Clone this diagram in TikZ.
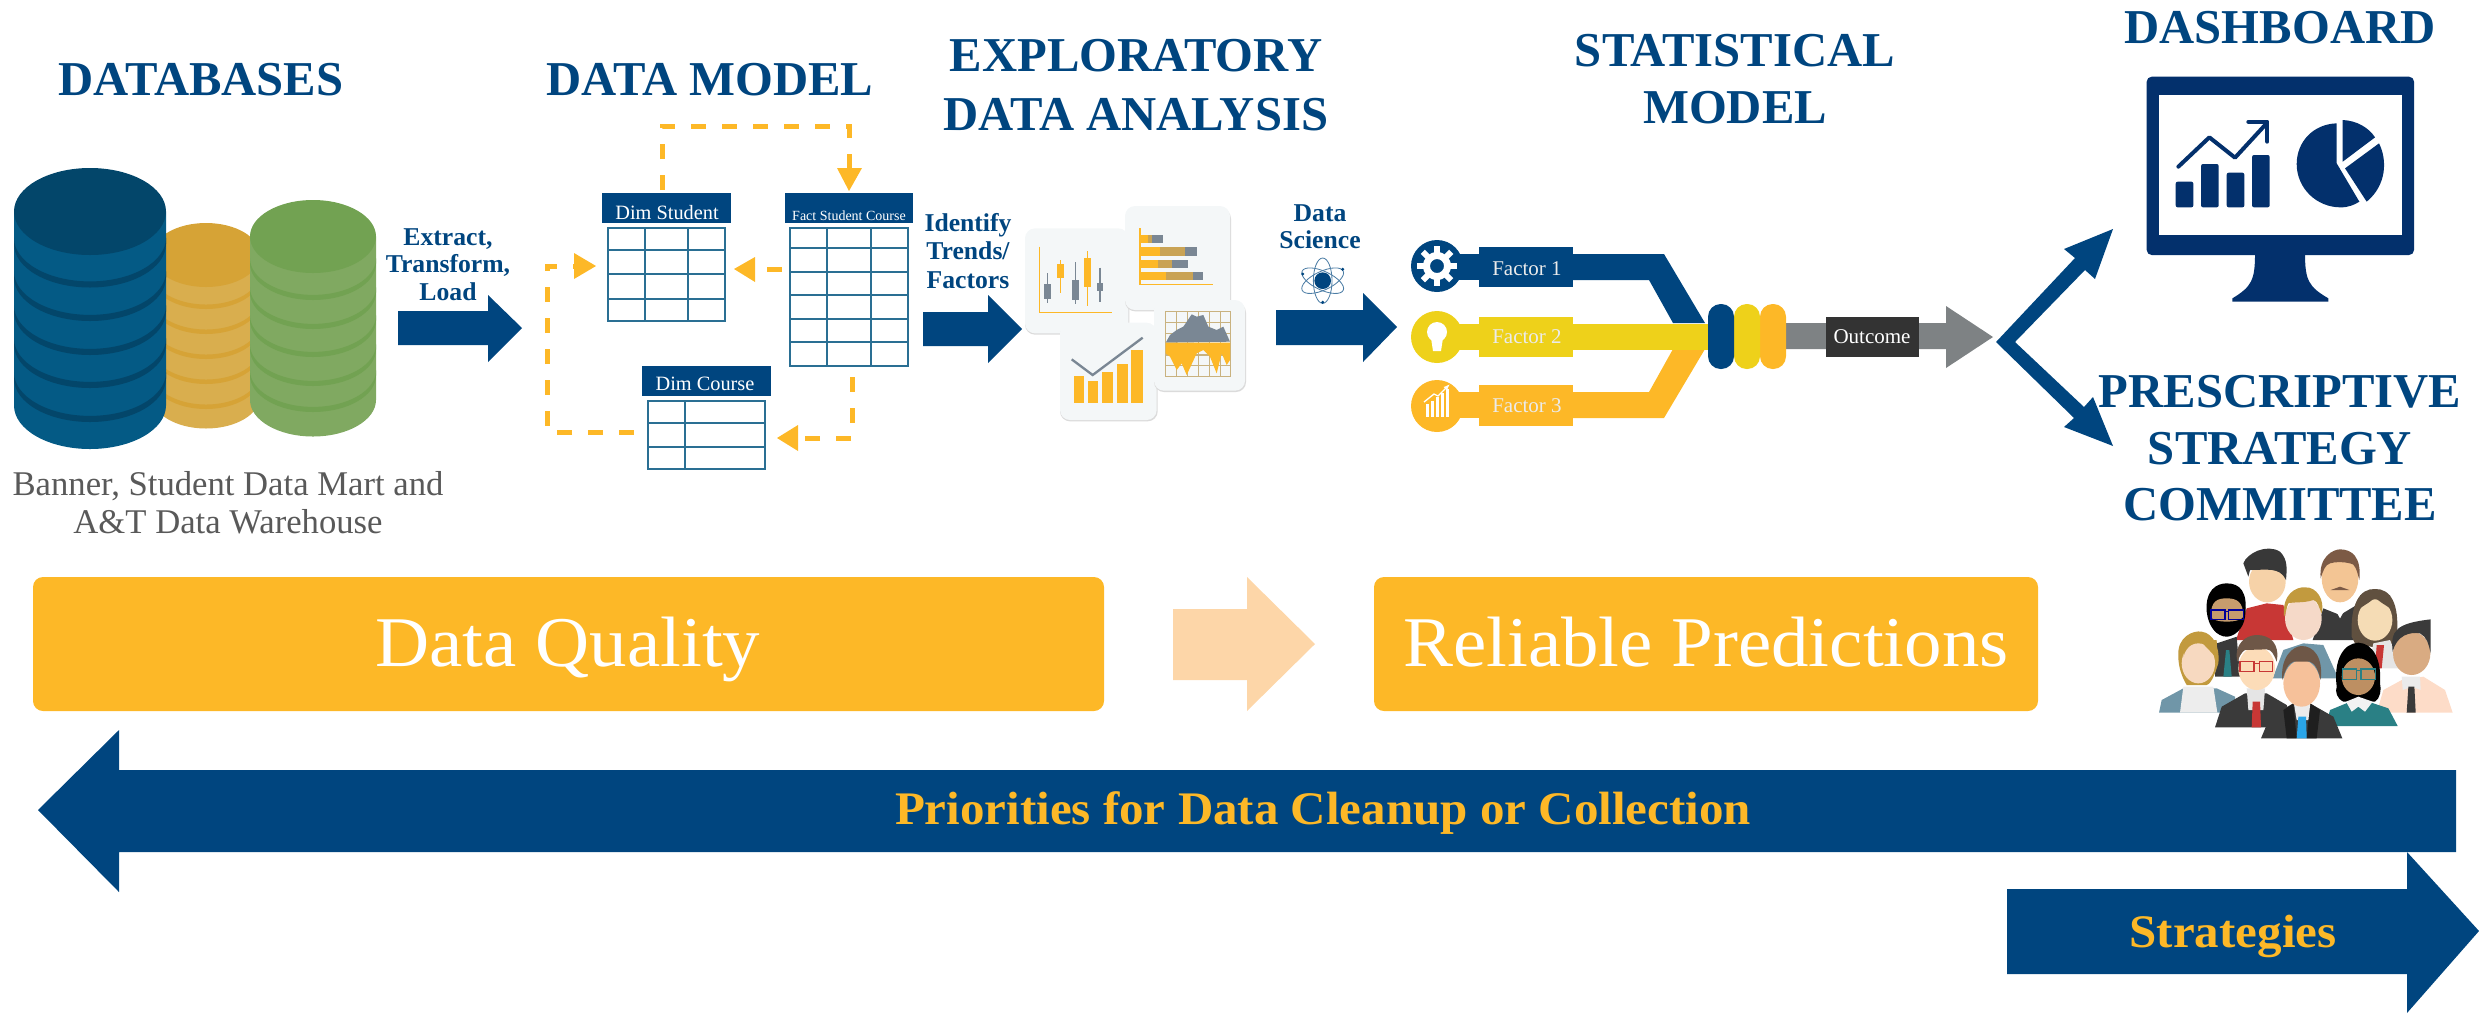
\documentclass[tikz,border=0pt]{standalone}
\usepackage{fontspec}
\setmainfont{Liberation Serif}
\newfontfamily\pal[FakeStretch=1.05]{Liberation Serif}
\usetikzlibrary{arrows.meta,calc}
\definecolor{navy}{HTML}{00457F}
\definecolor{deepnavy}{HTML}{03306C}
\definecolor{amber}{HTML}{FDB827}
\definecolor{lemon}{HTML}{EED11A}
\definecolor{tline}{HTML}{2A6F93}
\definecolor{grayb}{HTML}{7E8284}
\definecolor{cardf}{HTML}{F4F7F8}
\definecolor{chartg}{HTML}{7A8794}
\definecolor{hatchc}{HTML}{C9A355}
\definecolor{gridc}{HTML}{C9B27F}
\definecolor{orgbody}{HTML}{D9AE4E}
\definecolor{orgtop}{HTML}{D6A336}
\definecolor{bluebody}{HTML}{045A85}
\definecolor{bluetop}{HTML}{03466A}
\definecolor{grnbody}{HTML}{80A961}
\definecolor{grntop}{HTML}{72A252}
\definecolor{paleamber}{HTML}{FDD6A8}
\definecolor{shirtred}{HTML}{C83735}
\definecolor{teal}{HTML}{2A8085}
\definecolor{suit}{HTML}{3A3A3A}
\definecolor{steel}{HTML}{7096A8}
\definecolor{blond}{HTML}{C29A3E}
\definecolor{brownh}{HTML}{6E5747}
\definecolor{skinA}{HTML}{F6D2A8}
\definecolor{skinB}{HTML}{F3C594}
\definecolor{skinC}{HTML}{C69C6D}
\definecolor{skinD}{HTML}{F5D9C8}
\definecolor{skinE}{HTML}{F5DCB5}
\definecolor{skinF}{HTML}{D9AB82}
\definecolor{skinG}{HTML}{F7D9C0}
\definecolor{skinH}{HTML}{FCDCB8}
\definecolor{skinI}{HTML}{BD8F62}
\definecolor{skinJ}{HTML}{F6C19A}
\definecolor{peach}{HTML}{FDDCC8}
\definecolor{skyblue}{HTML}{2AA5E8}
\definecolor{hairM}{HTML}{7C5A45}
\definecolor{hairW}{HTML}{60503F}
\tikzset{
 x=0.3pt,y=-0.3pt,
 every node/.style={inner sep=0,outer sep=0},
 title/.style={font=\fontsize{14.6pt}{16pt}\selectfont\bfseries,text=navy,anchor=base},
 lab/.style={font=\fontsize{7.7pt}{9pt}\selectfont\bfseries,text=navy,anchor=base},
 hdr/.style={fill=navy,anchor=north west,text=white},
 fatarrow/.style={fill=navy,draw=none},
 dashline/.style={draw=amber,line width=1.5pt,dash pattern=on 4.5pt off 4.8pt},
 headtri/.style={fill=amber,draw=none},
 tbl/.style={draw=tline,line width=0.6pt,fill=white},
 card/.style={fill=cardf,rounded corners=3pt,draw=none},
 cardshadow/.style={fill=black!14,rounded corners=3pt,draw=none},
 axisl/.style={draw=amber,line width=0.5pt},
 factorlab/.style={font=\fontsize{6.3pt}{7pt}\selectfont,text=white!92!black},
 banner/.style={fill=amber,rounded corners=3pt,draw=none},
 bigw/.style={font=\fontsize{21.4pt}{24pt}\selectfont\pal,text=white,anchor=base},
 arrowlab/.style={font=\fontsize{14pt}{16pt}\selectfont\pal\bfseries,text=amber,anchor=base},
 capt/.style={font=\fontsize{10.4pt}{12pt}\selectfont,text=black!65,anchor=base},
 whitelab/.style={text=white,anchor=base},
 hdrtext/.style={whitelab,font=\fontsize{6.1pt}{7pt}\selectfont},
}
% cylinder: cx rx topcy ry bottomcy body band lows
\newcommand{\dbcyl}[8]{%
 \fill[#6] (#1-#2,#3) -- (#1-#2,#5) arc[start angle=180,end angle=0,x radius=#2,y radius=#4] -- (#1+#2,#3) -- cycle;
 \foreach \low in {#8}{
  \fill[#7] (#1-#2,\low-#4) arc[start angle=180,end angle=0,x radius=#2,y radius=#4]
     -- ++(0,-0.14*#4) arc[start angle=0,end angle=180,x radius=#2,y radius=#4] -- cycle;}
 \fill[#7] (#1,#3) ellipse[x radius=#2,y radius=#4];
}
\newcommand{\gridtable}[6]{% x0 y0 x1 y1 cols rows
 \draw[tbl] (#1,#2) rectangle (#3,#4);
 \foreach \cx in {#5} \draw[tbl] (\cx,#2) -- (\cx,#4);
 \foreach \cy in {#6} \draw[tbl] (#1,\cy) -- (#3,\cy);
}
\begin{document}
\begin{tikzpicture}
\useasboundingbox (0,0) rectangle (2479,1013);
% titles
\node[title] (t1) at (201,95) {DATABASES};
\node[title] (t2) at (710,95) {DATA MODEL};
\node[title] (t3) at (1136,71) {EXPLORATORY};
\node[title] (t3b) at (1136,130) {DATA ANALYSIS};
\node[title] (t4) at (1735,66) {STATISTICAL};
\node[title] (t4b) at (1735,123) {MODEL};
\node[title] (t5) at (2280,43) {DASHBOARD};
\node[title] (t6) at (2280,407) {PRESCRIPTIVE};
\node[title] (t6b) at (2280,464) {STRATEGY};
\node[title] (t6c) at (2280,520) {COMMITTEE};
% cylinders
\dbcyl{206}{54}{255}{32}{396.5}{orgbody}{orgtop}{309,334,359,384,409}
\dbcyl{90}{76}{211.5}{43.5}{405.5}{bluebody}{bluetop}{287.5,321,355,388,422}
\dbcyl{313}{63}{236.5}{36.5}{400}{grnbody}{grntop}{300,329,357,386,412}
\node[capt] (b1) at (228,495) {Banner, Student Data Mart and};
\node[capt] (b2) at (228,533) {A\&T Data Warehouse};
% ETL
\node[lab] (l1) at (448,245) {Extract,};
\node[lab] (l2) at (448,272) {Transform,};
\node[lab] (l3) at (448,300) {Load};
\fill[fatarrow] (398,311) -- (488,311) -- (488,295) -- (522,328) -- (488,362) -- (488,345) -- (398,345) -- cycle;
% tables
\gridtable{608}{228}{725}{321}{645,688}{250,274,299}
\gridtable{790}{228}{908}{366}{827,871}{248,272,295,319,342}
\gridtable{648}{401}{765}{469}{685}{423,447}
\node[hdr,minimum width=38.7pt,minimum height=9pt] (dsh) at (602,193) {};
\node[hdrtext] (dst) at (667,219) {Dim Student};
\node[hdr,minimum width=38.4pt,minimum height=9pt] (fsh) at (785,193) {};
\node[whitelab,font=\fontsize{4.2pt}{5pt}\selectfont] (fst) at (849,220) {Fact Student Course};
\node[hdr,minimum width=38.7pt,minimum height=9pt] (dch) at (642,366) {};
\node[hdrtext] (dct) at (705,390) {Dim Course};
% dashed connectors
\coordinate (d1a) at (662,190); \coordinate (d1b) at (849,168);
\coordinate (d2a) at (782,269); \coordinate (d2b) at (755,269);
\coordinate (d3a) at (852,377); \coordinate (d3b) at (798,438);
\coordinate (d4a) at (634,432); \coordinate (d4b) at (574,266);
\draw[dashline] (d1a) -- (662,126) -- (849,126) -- (d1b);
\fill[headtri] (837,168) -- (862,168) -- (849,191) -- cycle;
\draw[dashline] (d2a) -- (d2b);
\fill[headtri] (755,257) -- (755,282) -- (734,269) -- cycle;
\draw[dashline] (d3a) -- (852,438) -- (d3b);
\fill[headtri] (798,425) -- (798,451) -- (777,438) -- cycle;
\draw[dashline] (d4a) -- (547,432) -- (547,266) -- (d4b);
\fill[headtri] (574,253) -- (574,279) -- (596,266) -- cycle;
% Identify
\node[lab] (i1) at (968,231) {Identify};
\node[lab] (i2) at (968,259) {Trends/};
\node[lab] (i3) at (968,288) {Factors};
\fill[fatarrow] (923,312) -- (988,312) -- (988,295) -- (1022,329) -- (988,363) -- (988,346) -- (923,346) -- cycle;
% chart cards (zoom coordinates)
\begin{scope}[shift={(1000,130)},x=0.1pt,y=-0.1pt]
 % card A
 \fill[cardshadow] (75,303) rectangle (388,614);
 \fill[card] (75,295) rectangle (385,610);
 \draw[axisl] (118,350) -- (118,547) -- (337,547);
 \foreach \xp/\wa/\wb/\ba/\bb/\cc in {142/430/520/462/507/chartg,181/390/490/403/445/amber,226/397/522/450/510/chartg,262/363/527/385/472/amber,300/413/515/460/482/chartg}{
  \draw[\cc,line width=0.35pt] (\xp,\wa) -- (\xp,\wb);
  \fill[\cc] (\xp-10,\ba) rectangle (\xp+10,\bb);}
 % card B
 \fill[cardshadow] (375,236) rectangle (693,544);
 \fill[card] (375,228) rectangle (690,540);
 \draw[axisl] (420,295) -- (420,463) -- (638,463);
 \foreach \ya/\yb/\xa/\xb/\xc in {315/338/445/457/488,352/378/480/555/592,390/414/475/517/563,427/451/497/580/610}{
  \fill[amber] (420,\ya) rectangle (\xa,\yb);
  \fill[hatchc] (\xa,\ya) rectangle (\xb,\yb);
  \fill[chartg] (\xb,\ya) rectangle (\xc,\yb);}
 % card C
 \fill[cardshadow] (180,586) rectangle (473,874);
 \fill[card] (180,578) rectangle (470,870);
 \foreach \xa/\xb/\yt in {222/252/737,263/295/753,305/338/727,350/383/702,393/428/660}
  \fill[amber] (\xa,\yt) rectangle (\xb,820);
 \draw[chartg,line width=0.7pt] (215,688) -- (278,735) -- (428,623);
 % card D
 \fill[cardshadow] (462,518) rectangle (738,786);
 \fill[card] (462,510) rectangle (735,782);
 \draw[gridc,line width=0.4pt] (497,545) rectangle (692,740);
 \foreach \gx in {530,563,596,629,662} \draw[gridc,line width=0.35pt] (\gx,545) -- (\gx,740);
 \foreach \gy in {577,610,642,675,707} \draw[gridc,line width=0.35pt] (497,\gy) -- (692,\gy);
 \fill[chartg] (497,638) -- (510,615) -- (530,600) -- (550,590) -- (575,553) -- (590,560) -- (610,555) -- (625,590) -- (650,600) -- (670,590) -- (690,635) -- cycle;
 \fill[amber] (497,638) -- (690,638) -- (690,690) -- (680,705) -- (665,670) -- (650,730) -- (630,680) -- (610,660) -- (590,670) -- (560,735) -- (545,700) -- (530,720) -- (510,680) -- (497,670) -- cycle;
 % atom
 \begin{scope}[shift={(968,452)}]
  \fill[navy] (0,0) circle[radius=25];
  \foreach \a in {25,90,155} \draw[navy!70,line width=0.25pt,rotate=\a] (0,0) ellipse[x radius=68,y radius=28];
  \fill[navy] (-60,-20) circle[radius=5] (60,-34) circle[radius=5] (0,65) circle[radius=5];
 \end{scope}
\end{scope}
% data science
\node[lab] (s1) at (1320,221) {Data};
\node[lab] (s2) at (1320,248) {Science};
\fill[fatarrow] (1276,310) -- (1363,310) -- (1363,293) -- (1397,327) -- (1363,362) -- (1363,345) -- (1276,345) -- cycle;
% factors
\fill[amber] (1560,392) -- (1649,392) -- (1673,349) -- (1705,349) -- (1664,418) -- (1560,418) -- cycle;
\fill[navy] (1560,254) -- (1664,254) -- (1705,323) -- (1673,323) -- (1649,280) -- (1560,280) -- cycle;
\fill[navy] (1437,266) circle[radius=26];
\fill[navy] (1437,254) rectangle (1500,280);
\fill[navy] (1479,247) rectangle (1573,287);
\fill[lemon] (1437,337) circle[radius=26];
\fill[lemon] (1437,324) rectangle (1710,350);
\fill[lemon] (1479,317) rectangle (1573,357);
\fill[amber] (1437,406) circle[radius=26];
\fill[amber] (1437,392) rectangle (1500,418);
\fill[amber] (1479,385) rectangle (1573,426);
\node[factorlab] (f1) at (1527,269) {Factor 1};
\node[factorlab] (f2) at (1527,337) {Factor 2};
\node[factorlab] (f3) at (1527,406) {Factor 3};
% factor icons
\foreach \a in {0,45,...,315}
 \fill[white,rotate around={\a:(1437,266)}] (1434,246) rectangle (1440,254);
\fill[white,even odd rule] (1437,266) circle[radius=14] (1437,266) circle[radius=7];
\fill[white] (1437,332) circle[radius=10];
\fill[white] (1431,338) -- (1443,338) -- (1441,351) -- (1433,351) -- cycle;
\foreach \xp/\yt in {1426/404,1431/401,1436/397,1441/393,1446/389}
 \fill[white] (\xp,\yt) rectangle (\xp+3,417);
\draw[white,line width=0.4pt,-{Latex[length=2pt]}] (1424,402) -- (1434,394) -- (1438,396) -- (1450,384);
% outcome
\fill[grayb] (1780,323) -- (1946,323) -- (1946,306) -- (1993,337) -- (1946,368) -- (1946,349) -- (1780,349) -- cycle;
\fill[amber,rounded corners=3.8pt] (1760,304) rectangle (1786,369);
\fill[lemon,rounded corners=3.8pt] (1734,304) rectangle (1760,369);
\fill[navy,rounded corners=3.8pt] (1708,304) rectangle (1734,369);
\node[fill=black!80,minimum width=27.9pt,minimum height=12pt,anchor=center,text=white,font=\fontsize{6.3pt}{7pt}\selectfont] (out) at (1872,337) {Outcome};
% split arrows
\fill[navy] (1996,342) -- (2075,258) -- (2064,249) -- (2113,229) -- (2095,279) -- (2085,270) -- (2015,342) -- (2084,407) -- (2093,397) -- (2113,446) -- (2064,427) -- (2074,418) -- cycle;
% monitor
\begin{scope}[shift={(1980,0)},x=0.1pt,y=-0.1pt]
 \fill[deepnavy,rounded corners=1.5pt] (500,230) rectangle (1302,765);
 \fill[white] (538,285) rectangle (1265,705);
 \fill[deepnavy] (825,760) .. controls (825,840) and (815,860) .. (757,895) -- (757,905) -- (1045,905) -- (1045,895) .. controls (985,860) and (975,840) .. (975,760) -- cycle;
 \foreach \xa/\yt in {587/545,663/492,740/518,816/465}
  \fill[deepnavy,rounded corners=0.6pt] (\xa,\yt) rectangle (\xa+53,622);
 \draw[deepnavy,line width=1.2pt,line cap=round,line join=round] (595,500) -- (688,412) -- (765,473) -- (858,372);
 \draw[deepnavy,line width=1.2pt,line cap=round,line join=round] (805,365) -- (862,365) -- (862,425);
 \fill[deepnavy] (1070,370) .. controls (1000,372) and (950,425) .. (950,492) .. controls (950,565) and (1010,622) .. (1082,622) .. controls (1105,622) and (1122,615) .. (1138,605) -- (1070,490) -- cycle;
 \fill[deepnavy] (1088,360) .. controls (1130,362) and (1165,382) .. (1185,412) -- (1088,485) -- cycle;
 \fill[deepnavy] (1197,430) .. controls (1222,480) and (1220,555) .. (1160,605) -- (1095,505) -- cycle;
\end{scope}
% people
\begin{scope}[shift={(2080,520)},x=0.1pt,y=-0.1pt]
 % back row
 \fill[shirtred] (468,360) -- (500,265) -- (560,250) -- (610,255) -- (640,360) -- cycle;
 \fill[skinA] (562,185) ellipse[x radius=55,y radius=62];
 \fill[black!78] (505,170) -- (490,130) .. controls (500,100) and (560,70) .. (600,95) .. controls (625,120) and (620,150) .. (618,180) .. controls (600,140) and (560,150) .. (510,150) -- cycle;
 \fill[suit] (698,360) -- (730,265) -- (780,285) -- (830,255) -- (830,360) -- cycle;
 \fill[white] (755,250) -- (780,295) -- (805,250) -- cycle;
 \fill[skinB] (780,175) ellipse[x radius=55,y radius=72];
 \fill[hairM] (722,175) .. controls (715,110) and (760,88) .. (780,88) .. controls (815,88) and (845,110) .. (838,180) .. controls (830,150) and (825,130) .. (810,130) .. controls (790,125) and (765,125) .. (750,130) .. controls (735,135) and (730,150) .. (722,175) -- cycle;
 \fill[hairM] (752,210) -- (780,200) -- (808,210) -- cycle;
 % dark man with beard
 \fill[suit] (405,470) -- (410,370) -- (470,350) -- (480,470) -- cycle;
 \fill[teal] (430,470) -- (438,390) -- (448,390) -- (455,470) -- cycle;
 \fill[black] (380,275) .. controls (375,210) and (410,190) .. (440,190) .. controls (480,190) and (505,215) .. (495,290) .. controls (490,330) and (460,350) .. (440,350) .. controls (410,350) and (385,320) .. (380,275) -- cycle;
 \fill[skinC] (392,290) .. controls (392,240) and (415,235) .. (440,235) .. controls (470,235) and (490,245) .. (490,290) .. controls (480,310) and (400,310) .. (392,290) -- cycle;
 \draw[blue!60!black,line width=0.4pt] (393,270) rectangle (435,298) (445,270) rectangle (490,298) (435,275) -- (445,275);
 % blonde man centre
 \fill[steel] (578,475) -- (610,390) -- (670,370) -- (730,375) -- (775,475) -- cycle;
 \fill[skinD] (670,295) ellipse[x radius=55,y radius=65];
 \fill[blond] (612,290) .. controls (605,220) and (650,200) .. (675,202) .. controls (710,200) and (735,240) .. (725,280) .. controls (715,260) and (715,245) .. (700,240) .. controls (670,250) and (640,245) .. (625,250) .. controls (620,260) and (618,280) .. (612,290) -- cycle;
 % woman right
 \fill[hairW] (815,350) .. controls (810,250) and (840,205) .. (885,207) .. controls (930,205) and (960,250) .. (950,350) -- (945,395) -- (825,370) -- cycle;
 \fill[white!90!black] (865,445) -- (880,370) -- (930,360) -- (965,445) -- cycle;
 \fill[shirtred] (885,445) -- (890,375) -- (912,375) -- (905,445) -- cycle;
 \fill[skinE] (885,300) ellipse[x radius=52,y radius=62];
 \fill[hairW] (840,265) .. controls (860,250) and (875,245) .. (885,230) .. controls (895,245) and (910,250) .. (930,265) -- (930,225) -- (840,225) -- cycle;
 % man right
 \fill[peach] (890,578) -- (910,510) -- (965,480) -- (1030,470) -- (1095,510) -- (1118,578) -- cycle;
 \fill[white!92!black] (965,470) -- (1020,470) -- (1022,510) -- (995,500) -- (968,510) -- cycle;
 \fill[suit] (985,500) -- (1003,500) -- (1007,578) -- (980,578) -- cycle;
 \fill[skinF] (995,400) ellipse[x radius=56,y radius=65];
 \fill[suit] (938,395) .. controls (930,330) and (950,310) .. (1052,298) -- (1052,400) .. controls (1045,370) and (1040,350) .. (1020,340) .. controls (990,335) and (950,345) .. (938,395) -- cycle;
 % front left woman
 \fill[steel] (237,578) -- (245,540) -- (310,505) -- (410,505) -- (465,530) -- (470,578) -- cycle;
 \fill[white!93!black] (300,578) -- (310,500) -- (400,500) -- (412,578) -- cycle;
 \fill[blond] (295,410) .. controls (290,350) and (340,330) .. (365,335) .. controls (400,340) and (420,380) .. (415,430) .. controls (405,460) and (395,490) .. (380,495) -- (320,495) .. controls (305,470) and (295,440) .. (295,410) -- cycle;
 \fill[skinG] (355,430) ellipse[x radius=50,y radius=60];
 \fill[blond] (310,410) .. controls (320,375) and (345,365) .. (360,360) .. controls (375,380) and (400,400) .. (412,420) -- (410,360) -- (320,360) -- cycle;
 % red glasses man
 \fill[suit] (405,622) -- (425,560) -- (495,520) -- (560,520) -- (620,555) -- (640,622) -- cycle;
 \fill[white!90!black] (500,505) -- (555,505) -- (550,570) -- (505,570) -- cycle;
 \fill[shirtred] (518,545) -- (540,545) -- (543,622) -- (515,622) -- cycle;
 \fill[skinH] (530,445) ellipse[x radius=55,y radius=65];
 \fill[brownh] (472,425) .. controls (460,370) and (500,345) .. (530,345) .. controls (570,345) and (600,370) .. (590,425) .. controls (580,400) and (575,390) .. (560,388) -- (495,390) .. controls (485,395) and (478,410) .. (472,425) -- cycle;
 \draw[shirtred,line width=0.35pt] (480,425) rectangle (522,455) (538,425) rectangle (578,455) (522,430) -- (538,430);
 % teal woman
 \fill[black] (770,500) .. controls (760,420) and (790,370) .. (835,368) .. controls (880,370) and (905,420) .. (900,490) .. controls (905,510) and (900,535) .. (885,545) -- (790,545) .. controls (770,535) and (765,515) .. (770,500) -- cycle;
 \fill[teal] (737,618) -- (750,570) -- (835,535) -- (925,565) -- (953,618) -- cycle;
 \fill[white!95!black] (798,545) -- (835,530) -- (878,545) -- (855,575) -- (835,560) -- (815,575) -- cycle;
 \fill[skinI] (835,470) ellipse[x radius=50,y radius=55];
 \draw[teal,line width=0.4pt] (787,447) rectangle (830,478) (843,447) rectangle (886,478) (830,452) -- (843,452);
 % centre man
 \fill[suit] (543,655) -- (570,590) -- (640,550) -- (690,550) -- (760,590) -- (787,655) -- cycle;
 \fill[black!88] (610,570) -- (640,550) -- (650,655) -- (620,655) -- cycle;
 \fill[black!88] (690,550) -- (720,570) -- (710,655) -- (680,655) -- cycle;
 \fill[white!92!black] (640,540) -- (692,540) -- (685,600) -- (650,600) -- cycle;
 \fill[skyblue] (655,590) -- (678,590) -- (680,655) -- (650,655) -- cycle;
 \fill[skinJ] (665,490) ellipse[x radius=55,y radius=70];
 \fill[brownh] (607,480) .. controls (600,410) and (640,378) .. (665,378) .. controls (700,378) and (730,410) .. (722,480) .. controls (715,450) and (705,430) .. (690,425) -- (640,425) .. controls (625,430) and (615,450) .. (607,480) -- cycle;
\end{scope}
% banners
\fill[banner] (33,577) rectangle (1104,711);
\node[bigw] (dq) at (568,666) {Data Quality};
\fill[paleamber] (1173,609) -- (1247,609) -- (1247,577) -- (1315,644) -- (1247,711) -- (1247,680) -- (1173,680) -- cycle;
\fill[banner] (1374,577) rectangle (2038,711);
\node[bigw] (rp) at (1706,666) {Reliable Predictions};
% bottom arrows
\fill[navy] (38,810) -- (119,730) -- (119,770) -- (2456,770) -- (2456,852) -- (119,852) -- (119,892) -- cycle;
\node[arrowlab] (pr) at (1323,824) {Priorities for Data Cleanup or Collection};
\fill[navy] (2007,889) -- (2407,889) -- (2407,852) -- (2479,931) -- (2407,1013) -- (2407,974) -- (2007,974) -- cycle;
\node[arrowlab] (st) at (2233,947) {Strategies};
\end{tikzpicture}
\end{document}
